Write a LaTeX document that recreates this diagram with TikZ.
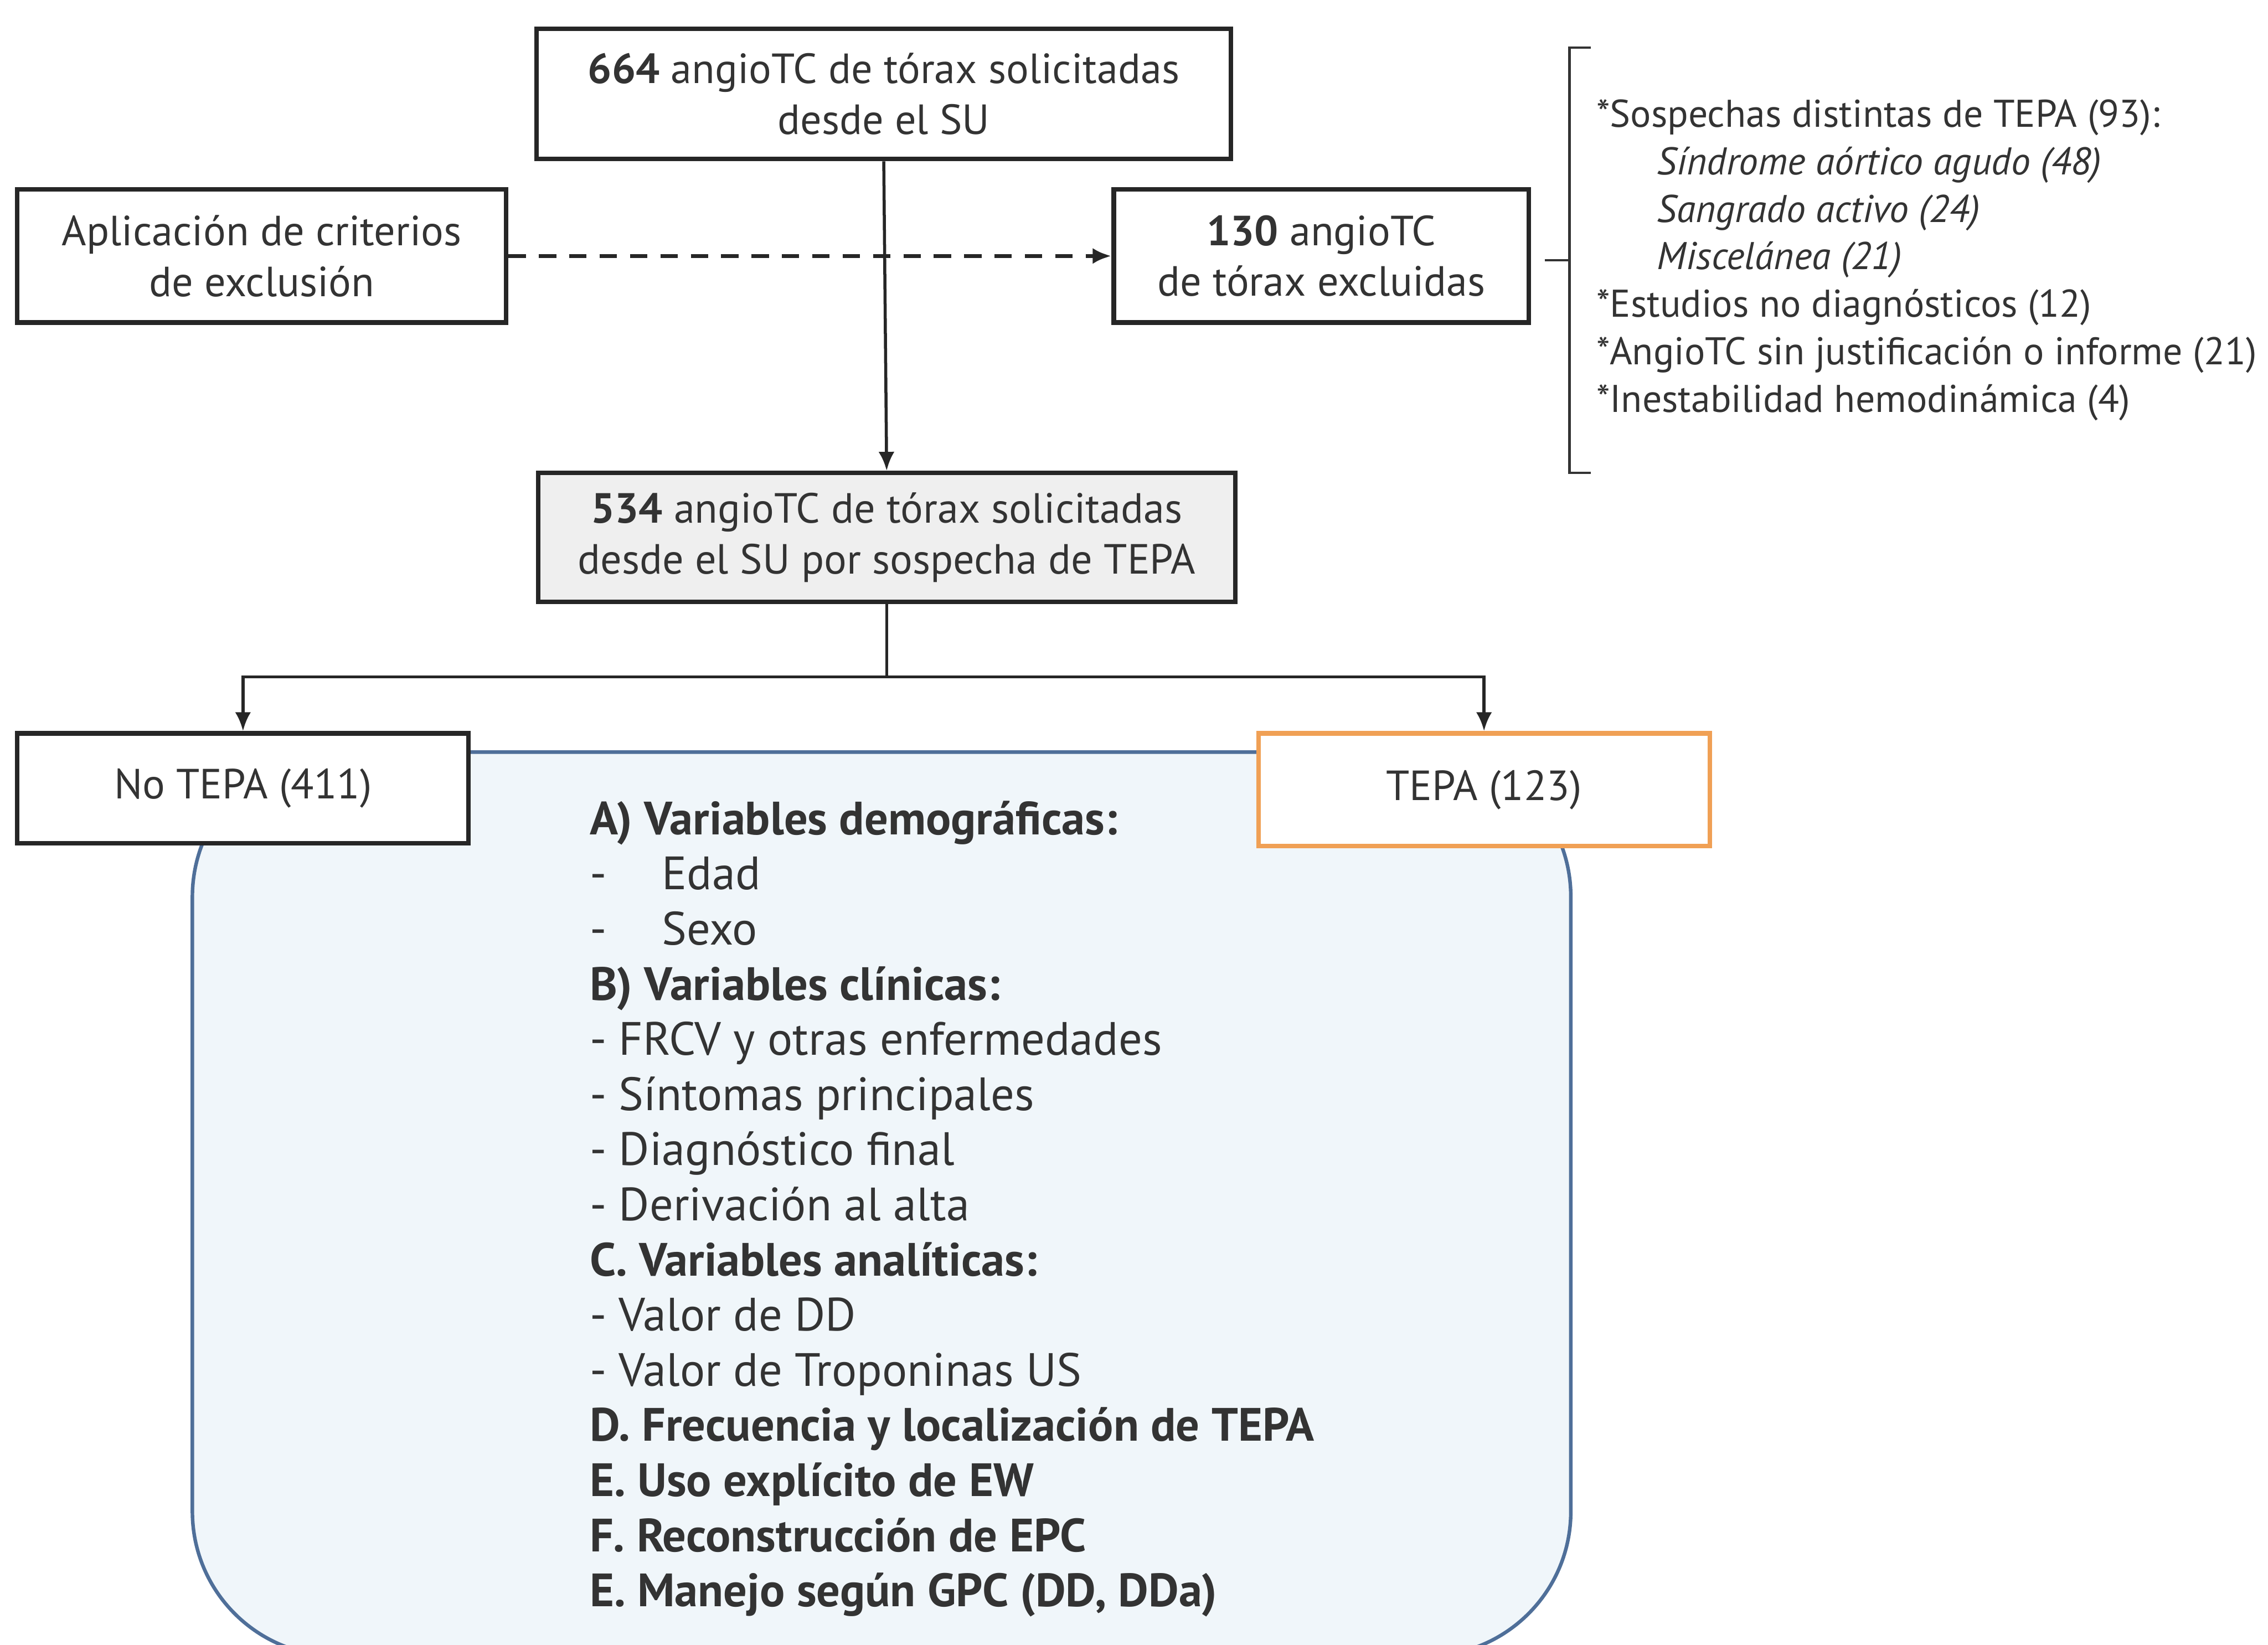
\documentclass[tikz,border=0pt]{standalone}
\usepackage{fontspec}
\setmainfont{PT Sans}
\usetikzlibrary{arrows.meta}
\definecolor{txt}{HTML}{333333}
\definecolor{boxline}{HTML}{262626}
\definecolor{tepaorange}{RGB}{240,160,85}
\definecolor{varfill}{HTML}{F0F6FA}
\definecolor{varline}{HTML}{4F6F99}
\definecolor{midfill}{HTML}{EFEFEF}
\tikzset{
  flowbox/.style={draw=boxline, line width=0.9pt, fill=white, text=txt, align=center, inner sep=0pt, font=\fontsize{8.3}{10}\selectfont},
  conn/.style={draw=boxline, line width=0.6pt},
  tip/.style={-{Latex[length=1.3mm,width=1.1mm]}},
  listtext/.style={text=txt, align=left, inner sep=0pt, anchor=north west},
}
\begin{document}
\begin{tikzpicture}[x=0.1mm,y=-0.1mm]
\useasboundingbox (0,0) rectangle (1568,1137);
\fill[white] (0,0) rectangle (1568,1137);

% big variables box
\node[draw=varline, line width=0.7pt, fill=varfill, rounded corners=10mm, minimum width=95.3mm, minimum height=62.5mm, inner sep=0pt] (vars) at (609.5,832.5) {};

% boxes
\node[flowbox, minimum width=48mm, minimum height=9mm] (top) at (611,65) {\textbf{664} angioTC de tórax solicitadas\\desde el SU};
\node[flowbox, minimum width=33.8mm, minimum height=9.2mm] (excl) at (181,177) {Aplicación de criterios\\de exclusión};
\node[flowbox, minimum width=28.7mm, minimum height=9.2mm] (excluded) at (913.5,177) {\textbf{130} angioTC\\de tórax excluidas};
\node[flowbox, fill=midfill, minimum width=48.2mm, minimum height=8.9mm] (mid) at (613,371.5) {\textbf{534} angioTC de tórax solicitadas\\desde el SU por sospecha de TEPA};
\node[flowbox, minimum width=31.2mm, minimum height=7.6mm] (notepa) at (168,545) {No TEPA (411)};
\node[flowbox, draw=tepaorange, minimum width=31.2mm, minimum height=7.8mm] (tepa) at (1026,546) {TEPA (123)};

% connectors
\draw[conn, tip] (top.south) -- (mid.north);
\draw[conn, tip, line width=0.8pt, dash pattern=on 1.2mm off 0.9mm] (excl.east) -- (excluded.west);
\coordinate (split) at (613,468);
\draw[conn] (mid.south) -- (split);
\draw[conn, tip] (split) -| (notepa.north);
\draw[conn, tip] (split) -| (tepa.north);

% bracket
\coordinate (brtop) at (1100,33);
\coordinate (brbot) at (1100,327);
\draw[conn, line width=0.5pt, draw=txt] (brtop) -- (1085,33) -- (1085,327) -- (brbot);
\coordinate (brtick) at (1068,180);
\draw[conn, line width=0.5pt, draw=txt] (brtick) -- (1085,180);

% exclusion reasons
\node[listtext, font=\fontsize{7.6}{9.35}\selectfont] (reasons) at (1103,68) {%
*Sospechas distintas de TEPA (93):\\
\hspace*{4.2mm}\textit{Síndrome aórtico agudo (48)}\\
\hspace*{4.2mm}\textit{Sangrado activo (24)}\\
\hspace*{4.2mm}\textit{Miscelánea (21)}\\
*Estudios no diagnósticos (12)\\
*AngioTC sin justificación o informe (21)\\
*Inestabilidad hemodinámica (4)};

% variables list
\node[listtext, font=\fontsize{9.2}{10.85}\selectfont] (varlist) at (407,553) {%
\textbf{A) Variables demográficas:}\\
\makebox[5mm][l]{-}Edad\\
\makebox[5mm][l]{-}Sexo\\
\textbf{B) Variables clínicas:}\\
- FRCV y otras enfermedades\\
- Síntomas principales\\
- Diagnóstico final\\
- Derivación al alta\\
\textbf{C. Variables analíticas:}\\
- Valor de DD\\
- Valor de Troponinas US\\
\textbf{D. Frecuencia y localización de TEPA}\\
\textbf{E. Uso explícito de EW}\\
\textbf{F. Reconstrucción de EPC}\\
\textbf{E. Manejo según GPC (DD, DDa)}};
\end{tikzpicture}
\end{document}
